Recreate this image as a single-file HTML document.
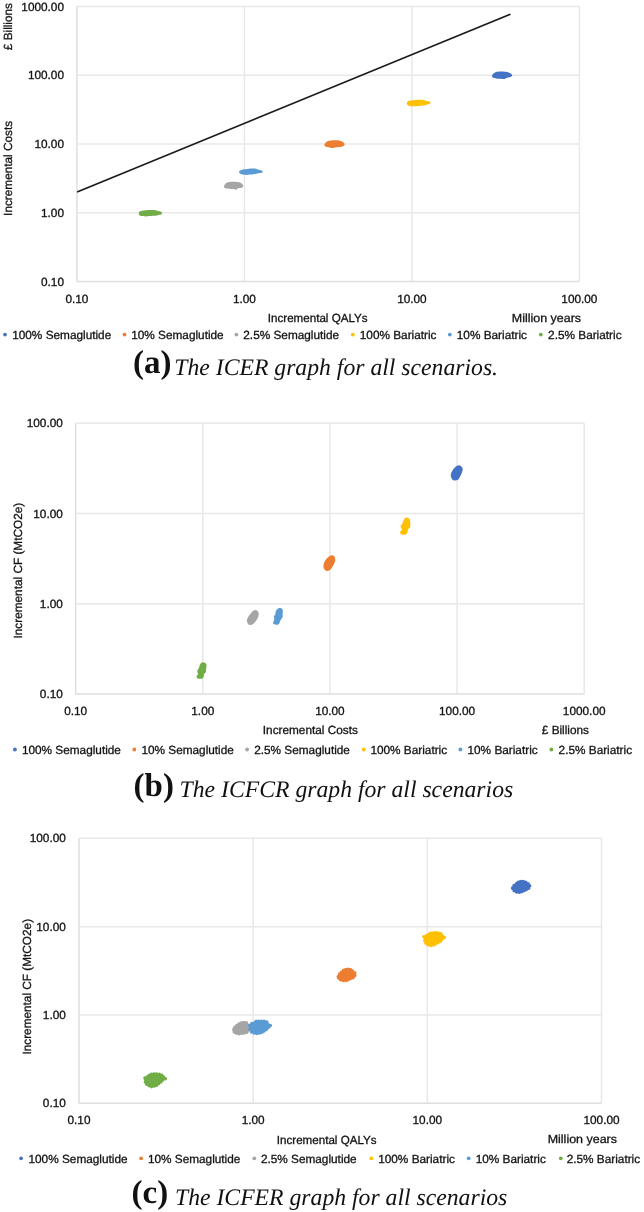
<!DOCTYPE html>
<html><head><meta charset="utf-8"><title>ICER graphs</title>
<style>html,body{margin:0;padding:0;background:#fff;width:644px;height:1212px;overflow:hidden}svg{display:block;text-rendering:geometricPrecision;will-change:transform}text{stroke:#121212;stroke-width:0.3px}text.cap{stroke:none}</style>
</head><body>
<svg width="644" height="1212" viewBox="0 0 644 1212" font-family="Liberation Sans, sans-serif" fill="#121212"><rect width="644" height="1212" fill="#fff"/><line x1="76.90" y1="6.50" x2="76.90" y2="281.50" stroke="#dedede" stroke-width="1.5"/><line x1="244.40" y1="6.50" x2="244.40" y2="281.50" stroke="#e8e8e8" stroke-width="1.5"/><line x1="411.90" y1="6.50" x2="411.90" y2="281.50" stroke="#e8e8e8" stroke-width="1.5"/><line x1="579.40" y1="6.50" x2="579.40" y2="281.50" stroke="#e8e8e8" stroke-width="1.5"/><line x1="76.90" y1="6.50" x2="579.40" y2="6.50" stroke="#e8e8e8" stroke-width="1.5"/><line x1="76.90" y1="75.25" x2="579.40" y2="75.25" stroke="#e8e8e8" stroke-width="1.5"/><line x1="76.90" y1="144.00" x2="579.40" y2="144.00" stroke="#e8e8e8" stroke-width="1.5"/><line x1="76.90" y1="212.75" x2="579.40" y2="212.75" stroke="#e8e8e8" stroke-width="1.5"/><line x1="76.90" y1="281.50" x2="579.40" y2="281.50" stroke="#dedede" stroke-width="1.5"/><text x="64.0" y="10.6" text-anchor="end" font-size="11.8" >1000.00</text><text x="64.0" y="79.3" text-anchor="end" font-size="11.8" >100.00</text><text x="64.0" y="148.1" text-anchor="end" font-size="11.8" >10.00</text><text x="64.0" y="216.8" text-anchor="end" font-size="11.8" >1.00</text><text x="64.0" y="285.6" text-anchor="end" font-size="11.8" >0.10</text><text x="76.9" y="303.0" text-anchor="middle" font-size="11.8" >0.10</text><text x="244.4" y="303.0" text-anchor="middle" font-size="11.8" >1.00</text><text x="411.9" y="303.0" text-anchor="middle" font-size="11.8" >10.00</text><text x="579.4" y="303.0" text-anchor="middle" font-size="11.8" >100.00</text><line x1="77.1" y1="191.9" x2="510.5" y2="14.2" stroke="#1a1a1a" stroke-width="1.6"/><path d="M492.00,76.10C492.07,75.57 492.48,74.72 493.00,74.10C493.52,73.48 494.08,72.82 495.10,72.40C496.12,71.98 497.77,71.77 499.10,71.60C500.43,71.43 501.75,71.33 503.10,71.40C504.45,71.47 505.98,71.70 507.20,72.00C508.42,72.30 509.60,72.75 510.40,73.20C511.20,73.65 511.73,74.22 512.00,74.70C512.27,75.18 512.27,75.70 512.00,76.10C511.73,76.50 511.33,76.80 510.40,77.10C509.47,77.40 507.42,77.57 506.40,77.90C505.38,78.23 505.18,78.97 504.30,79.10C503.42,79.23 502.30,78.77 501.10,78.70C499.90,78.63 498.25,78.80 497.10,78.70C495.95,78.60 494.95,78.33 494.20,78.10C493.45,77.87 492.97,77.63 492.60,77.30C492.23,76.97 491.93,76.63 492.00,76.10Z" fill="#4472C4"/><path d="M324.40,145.10C324.47,144.57 324.88,143.75 325.40,143.10C325.92,142.45 326.55,141.65 327.50,141.20C328.45,140.75 329.83,140.57 331.10,140.40C332.37,140.23 333.75,140.20 335.10,140.20C336.45,140.20 338.05,140.20 339.20,140.40C340.35,140.60 341.20,140.95 342.00,141.40C342.80,141.85 343.57,142.58 344.00,143.10C344.43,143.62 344.60,144.07 344.60,144.50C344.60,144.93 344.57,145.33 344.00,145.70C343.43,146.07 342.35,146.43 341.20,146.70C340.05,146.97 338.45,147.10 337.10,147.30C335.75,147.50 334.23,147.83 333.10,147.90C331.97,147.97 331.30,147.83 330.30,147.70C329.30,147.57 327.98,147.33 327.10,147.10C326.22,146.87 325.45,146.63 325.00,146.30C324.55,145.97 324.33,145.63 324.40,145.10Z" fill="#ED7D31"/><path d="M224.00,186.70C224.07,186.12 224.48,184.88 225.00,184.20C225.52,183.52 226.08,183.00 227.10,182.60C228.12,182.20 229.77,181.95 231.10,181.80C232.43,181.65 233.75,181.63 235.10,181.70C236.45,181.77 238.12,181.92 239.20,182.20C240.28,182.48 240.97,182.92 241.60,183.40C242.23,183.88 242.77,184.55 243.00,185.10C243.23,185.65 243.23,186.27 243.00,186.70C242.77,187.13 242.43,187.43 241.60,187.70C240.77,187.97 238.88,187.97 238.00,188.30C237.12,188.63 236.92,189.53 236.30,189.70C235.68,189.87 235.17,189.40 234.30,189.30C233.43,189.20 232.30,189.23 231.10,189.10C229.90,188.97 228.18,188.73 227.10,188.50C226.02,188.27 225.12,188.00 224.60,187.70C224.08,187.40 223.93,187.28 224.00,186.70Z" fill="#A5A5A5"/><path d="M406.80,103.05C406.83,102.47 407.00,101.83 407.70,101.40C408.40,100.98 409.68,100.75 411.00,100.50C412.32,100.25 414.05,100.02 415.60,99.90C417.15,99.78 418.82,99.75 420.30,99.80C421.78,99.85 423.48,100.00 424.50,100.20C425.52,100.40 425.70,100.82 426.40,101.00C427.10,101.18 428.08,101.12 428.70,101.30C429.32,101.48 429.80,101.81 430.10,102.10C430.40,102.39 430.58,102.73 430.50,103.05C430.42,103.37 430.13,103.76 429.60,104.00C429.07,104.24 428.00,104.30 427.30,104.50C426.60,104.70 426.18,105.02 425.40,105.20C424.62,105.38 423.83,105.45 422.60,105.60C421.37,105.75 419.55,105.98 418.00,106.10C416.45,106.22 414.70,106.33 413.30,106.30C411.90,106.27 410.57,106.13 409.60,105.90C408.63,105.67 407.97,105.38 407.50,104.90C407.03,104.43 406.77,103.63 406.80,103.05Z" fill="#FFC000"/><path d="M239.00,171.80C239.00,171.25 239.53,170.78 240.20,170.40C240.87,170.02 241.77,169.75 243.00,169.50C244.23,169.25 246.05,169.05 247.60,168.90C249.15,168.75 250.90,168.62 252.30,168.60C253.70,168.58 254.98,168.62 256.00,168.80C257.02,168.98 257.62,169.47 258.40,169.70C259.18,169.93 260.05,170.00 260.70,170.20C261.35,170.40 261.95,170.63 262.30,170.90C262.65,171.17 262.83,171.48 262.80,171.80C262.77,172.12 262.60,172.60 262.10,172.80C261.60,173.00 260.58,172.88 259.80,173.00C259.02,173.12 258.27,173.30 257.40,173.50C256.53,173.70 255.83,174.02 254.60,174.20C253.37,174.38 251.40,174.45 250.00,174.60C248.60,174.75 247.37,175.10 246.20,175.10C245.03,175.10 244.00,174.83 243.00,174.60C242.00,174.37 240.87,174.17 240.20,173.70C239.53,173.23 239.00,172.35 239.00,171.80Z" fill="#5B9BD5"/><path d="M138.80,213.50C138.77,212.88 139.12,212.10 139.50,211.70C139.88,211.30 140.37,211.32 141.10,211.10C141.83,210.88 142.73,210.58 143.90,210.40C145.07,210.22 146.70,210.07 148.10,210.00C149.50,209.93 151.05,209.95 152.30,210.00C153.55,210.05 154.67,210.13 155.60,210.30C156.53,210.47 157.13,210.82 157.90,211.00C158.67,211.18 159.58,211.22 160.20,211.40C160.82,211.58 161.32,211.78 161.60,212.10C161.88,212.42 161.97,212.90 161.90,213.30C161.83,213.70 161.63,214.27 161.20,214.50C160.77,214.73 160.00,214.55 159.30,214.70C158.60,214.85 157.93,215.22 157.00,215.40C156.07,215.58 155.03,215.68 153.70,215.80C152.37,215.92 150.32,215.98 149.00,216.10C147.68,216.22 146.80,216.50 145.80,216.50C144.80,216.50 144.02,216.28 143.00,216.10C141.98,215.92 140.40,215.83 139.70,215.40C139.00,214.97 138.83,214.12 138.80,213.50Z" fill="#70AD47"/><text x="267.8" y="321.5" text-anchor="start" font-size="11.8" textLength="99.8" lengthAdjust="spacingAndGlyphs">Incremental QALYs</text><text x="511.8" y="321.5" text-anchor="start" font-size="11.8" textLength="69.3" lengthAdjust="spacingAndGlyphs">Million years</text><text transform="translate(11.9,50.2) rotate(-90)" font-size="11.8">£ Billions</text><text transform="translate(12.1,215.9) rotate(-90)" font-size="11.8">Incremental Costs</text><circle cx="5.0" cy="334.6" r="1.9" fill="#4472C4"/><text x="12.2" y="338.9" text-anchor="start" font-size="11.8" >100% Semaglutide</text><circle cx="124.5" cy="334.6" r="1.9" fill="#ED7D31"/><text x="131.2" y="338.9" text-anchor="start" font-size="11.8" >10% Semaglutide</text><circle cx="236.4" cy="334.6" r="1.9" fill="#A5A5A5"/><text x="243.3" y="338.9" text-anchor="start" font-size="11.8" >2.5% Semaglutide</text><circle cx="352.8" cy="334.6" r="1.9" fill="#FFC000"/><text x="359.8" y="338.9" text-anchor="start" font-size="11.8" >100% Bariatric</text><circle cx="449.8" cy="334.6" r="1.9" fill="#5B9BD5"/><text x="456.8" y="338.9" text-anchor="start" font-size="11.8" >10% Bariatric</text><circle cx="540.8" cy="334.6" r="1.9" fill="#70AD47"/><text x="548.1" y="338.9" text-anchor="start" font-size="11.8" >2.5% Bariatric</text><line x1="75.65" y1="423.30" x2="75.65" y2="694.10" stroke="#dedede" stroke-width="1.5"/><line x1="202.79" y1="423.30" x2="202.79" y2="694.10" stroke="#e8e8e8" stroke-width="1.5"/><line x1="329.93" y1="423.30" x2="329.93" y2="694.10" stroke="#e8e8e8" stroke-width="1.5"/><line x1="457.06" y1="423.30" x2="457.06" y2="694.10" stroke="#e8e8e8" stroke-width="1.5"/><line x1="584.20" y1="423.30" x2="584.20" y2="694.10" stroke="#e8e8e8" stroke-width="1.5"/><line x1="75.65" y1="423.30" x2="584.20" y2="423.30" stroke="#e8e8e8" stroke-width="1.5"/><line x1="75.65" y1="513.57" x2="584.20" y2="513.57" stroke="#e8e8e8" stroke-width="1.5"/><line x1="75.65" y1="603.83" x2="584.20" y2="603.83" stroke="#e8e8e8" stroke-width="1.5"/><line x1="75.65" y1="694.10" x2="584.20" y2="694.10" stroke="#dedede" stroke-width="1.5"/><text x="62.8" y="427.4" text-anchor="end" font-size="11.8" >100.00</text><text x="62.8" y="517.7" text-anchor="end" font-size="11.8" >10.00</text><text x="62.8" y="607.9" text-anchor="end" font-size="11.8" >1.00</text><text x="62.8" y="698.2" text-anchor="end" font-size="11.8" >0.10</text><text x="75.7" y="715.1" text-anchor="middle" font-size="11.8" >0.10</text><text x="202.8" y="715.1" text-anchor="middle" font-size="11.8" >1.00</text><text x="329.9" y="715.1" text-anchor="middle" font-size="11.8" >10.00</text><text x="457.1" y="715.1" text-anchor="middle" font-size="11.8" >100.00</text><text x="584.2" y="715.1" text-anchor="middle" font-size="11.8" >1000.00</text><path d="M459.00,465.20C459.72,465.18 460.32,465.52 460.90,466.00C461.48,466.48 462.22,467.38 462.50,468.10C462.78,468.82 462.72,469.52 462.60,470.30C462.48,471.08 462.13,471.92 461.80,472.80C461.47,473.68 461.07,474.67 460.60,475.60C460.13,476.53 459.52,477.68 459.00,478.40C458.48,479.12 458.12,479.57 457.50,479.90C456.88,480.23 456.08,480.40 455.30,480.40C454.52,480.40 453.47,480.33 452.80,479.90C452.13,479.47 451.63,478.57 451.30,477.80C450.97,477.03 450.80,476.13 450.80,475.30C450.80,474.47 450.97,473.68 451.30,472.80C451.63,471.92 452.23,470.83 452.80,470.00C453.37,469.17 454.07,468.45 454.70,467.80C455.33,467.15 455.88,466.53 456.60,466.10C457.32,465.67 458.28,465.22 459.00,465.20Z" fill="#4472C4"/><path d="M332.00,555.30C332.72,555.35 333.68,555.77 334.20,556.30C334.72,556.83 334.95,557.73 335.10,558.50C335.25,559.27 335.25,560.08 335.10,560.90C334.95,561.72 334.55,562.57 334.20,563.40C333.85,564.23 333.47,565.07 333.00,565.90C332.53,566.73 331.92,567.73 331.40,568.40C330.88,569.07 330.57,569.48 329.90,569.90C329.23,570.32 328.18,570.83 327.40,570.90C326.62,570.97 325.82,570.82 325.20,570.30C324.58,569.78 323.98,568.68 323.70,567.80C323.42,566.92 323.40,565.93 323.50,565.00C323.60,564.07 323.92,563.08 324.30,562.20C324.68,561.32 325.23,560.48 325.80,559.70C326.37,558.92 327.02,558.12 327.70,557.50C328.38,556.88 329.18,556.37 329.90,556.00C330.62,555.63 331.28,555.25 332.00,555.30Z" fill="#ED7D31"/><path d="M255.10,610.00C255.88,609.92 256.73,610.23 257.30,610.70C257.87,611.17 258.27,612.10 258.50,612.80C258.73,613.50 258.80,614.13 258.70,614.90C258.60,615.67 258.28,616.52 257.90,617.40C257.52,618.28 256.97,619.32 256.40,620.20C255.83,621.08 255.18,621.97 254.50,622.70C253.82,623.43 253.08,624.23 252.30,624.60C251.52,624.97 250.52,625.02 249.80,624.90C249.08,624.78 248.47,624.47 248.00,623.90C247.53,623.33 247.12,622.37 247.00,621.50C246.88,620.63 247.03,619.58 247.30,618.70C247.57,617.82 248.07,617.03 248.60,616.20C249.13,615.37 249.83,614.53 250.50,613.70C251.17,612.87 251.83,611.82 252.60,611.20C253.37,610.58 254.32,610.08 255.10,610.00Z" fill="#A5A5A5"/><path d="M406.50,517.40C407.07,517.38 407.78,517.82 408.30,518.10C408.82,518.38 409.28,518.57 409.60,519.10C409.92,519.63 410.08,520.48 410.20,521.30C410.32,522.12 410.30,523.07 410.30,524.00C410.30,524.93 410.32,526.22 410.20,526.90C410.08,527.58 409.97,527.68 409.60,528.10C409.23,528.52 408.32,528.87 408.00,529.40C407.68,529.93 407.90,530.58 407.70,531.30C407.50,532.02 407.37,533.12 406.80,533.70C406.23,534.28 405.23,534.68 404.30,534.80C403.37,534.92 401.90,534.78 401.20,534.40C400.50,534.02 400.20,533.07 400.10,532.50C400.00,531.93 400.27,531.52 400.60,531.00C400.93,530.48 402.05,529.98 402.10,529.40C402.15,528.82 401.13,528.12 400.90,527.50C400.67,526.88 400.50,526.27 400.70,525.70C400.90,525.13 401.65,524.93 402.10,524.10C402.55,523.27 402.93,521.68 403.40,520.70C403.87,519.72 404.38,518.75 404.90,518.20C405.42,517.65 405.93,517.42 406.50,517.40Z" fill="#FFC000"/><path d="M279.20,608.10C279.90,607.92 280.63,607.95 281.20,608.20C281.77,608.45 282.33,609.00 282.60,609.60C282.87,610.20 282.80,610.97 282.80,611.80C282.80,612.63 282.62,613.80 282.60,614.60C282.58,615.40 282.75,616.03 282.70,616.60C282.65,617.17 282.55,617.58 282.30,618.00C282.05,618.42 281.53,618.63 281.20,619.10C280.87,619.57 280.63,620.05 280.30,620.80C279.97,621.55 279.62,622.95 279.20,623.60C278.78,624.25 278.50,624.55 277.80,624.70C277.10,624.85 275.77,624.68 275.00,624.50C274.23,624.32 273.52,624.03 273.20,623.60C272.88,623.17 272.93,622.47 273.10,621.90C273.27,621.33 274.03,620.85 274.20,620.20C274.37,619.55 274.15,618.65 274.10,618.00C274.05,617.35 273.70,616.87 273.90,616.30C274.10,615.73 275.02,615.35 275.30,614.60C275.58,613.85 275.32,612.68 275.60,611.80C275.88,610.92 276.40,609.92 277.00,609.30C277.60,608.68 278.50,608.28 279.20,608.10Z" fill="#5B9BD5"/><path d="M202.60,662.20C203.25,662.03 204.00,662.28 204.60,662.60C205.20,662.92 205.88,663.47 206.20,664.10C206.52,664.73 206.52,665.55 206.50,666.40C206.48,667.25 206.18,668.32 206.10,669.20C206.02,670.08 206.17,671.05 206.00,671.70C205.83,672.35 205.43,672.68 205.10,673.10C204.77,673.52 204.23,673.65 204.00,674.20C203.77,674.75 203.93,675.70 203.70,676.40C203.47,677.10 203.15,678.00 202.60,678.40C202.05,678.80 201.23,678.80 200.40,678.80C199.57,678.80 198.23,678.70 197.60,678.40C196.97,678.10 196.70,677.52 196.60,677.00C196.50,676.48 196.75,675.72 197.00,675.30C197.25,674.88 198.00,674.92 198.10,674.50C198.20,674.08 197.73,673.45 197.60,672.80C197.47,672.15 197.12,671.30 197.30,670.60C197.48,669.90 198.33,669.40 198.70,668.60C199.07,667.80 199.17,666.63 199.50,665.80C199.83,664.97 200.18,664.20 200.70,663.60C201.22,663.00 201.95,662.37 202.60,662.20Z" fill="#70AD47"/><text x="262.8" y="733.8" text-anchor="start" font-size="11.8" >Incremental Costs</text><text x="541.8" y="734.2" text-anchor="start" font-size="11.8" >£ Billions</text><text transform="translate(22.2,638.5) rotate(-90)" font-size="11.8">Incremental CF (MtCO2e)</text><circle cx="14.9" cy="749.5" r="1.9" fill="#4472C4"/><text x="21.9" y="753.8" text-anchor="start" font-size="11.8" >100% Semaglutide</text><circle cx="134.3" cy="749.5" r="1.9" fill="#ED7D31"/><text x="141.4" y="753.8" text-anchor="start" font-size="11.8" >10% Semaglutide</text><circle cx="247.1" cy="749.5" r="1.9" fill="#A5A5A5"/><text x="254.2" y="753.8" text-anchor="start" font-size="11.8" >2.5% Semaglutide</text><circle cx="363.8" cy="749.5" r="1.9" fill="#FFC000"/><text x="370.4" y="753.8" text-anchor="start" font-size="11.8" >100% Bariatric</text><circle cx="460.4" cy="749.5" r="1.9" fill="#5B9BD5"/><text x="467.5" y="753.8" text-anchor="start" font-size="11.8" >10% Bariatric</text><circle cx="551.4" cy="749.5" r="1.9" fill="#70AD47"/><text x="558.6" y="753.8" text-anchor="start" font-size="11.8" >2.5% Bariatric</text><line x1="79.00" y1="838.30" x2="79.00" y2="1103.30" stroke="#dedede" stroke-width="1.5"/><line x1="253.17" y1="838.30" x2="253.17" y2="1103.30" stroke="#e8e8e8" stroke-width="1.5"/><line x1="427.33" y1="838.30" x2="427.33" y2="1103.30" stroke="#e8e8e8" stroke-width="1.5"/><line x1="601.50" y1="838.30" x2="601.50" y2="1103.30" stroke="#e8e8e8" stroke-width="1.5"/><line x1="79.00" y1="838.30" x2="601.50" y2="838.30" stroke="#e8e8e8" stroke-width="1.5"/><line x1="79.00" y1="926.63" x2="601.50" y2="926.63" stroke="#e8e8e8" stroke-width="1.5"/><line x1="79.00" y1="1014.97" x2="601.50" y2="1014.97" stroke="#e8e8e8" stroke-width="1.5"/><line x1="79.00" y1="1103.30" x2="601.50" y2="1103.30" stroke="#dedede" stroke-width="1.5"/><text x="65.8" y="842.4" text-anchor="end" font-size="11.8" >100.00</text><text x="65.8" y="930.7" text-anchor="end" font-size="11.8" >10.00</text><text x="65.8" y="1019.1" text-anchor="end" font-size="11.8" >1.00</text><text x="65.8" y="1107.4" text-anchor="end" font-size="11.8" >0.10</text><text x="79.0" y="1124.2" text-anchor="middle" font-size="11.8" >0.10</text><text x="253.2" y="1124.2" text-anchor="middle" font-size="11.8" >1.00</text><text x="427.3" y="1124.2" text-anchor="middle" font-size="11.8" >10.00</text><text x="601.5" y="1124.2" text-anchor="middle" font-size="11.8" >100.00</text><g fill="#4472C4"><path d="M512.67,887.87C512.83,887.21 513.23,886.35 513.74,885.72C514.26,885.09 515.02,884.71 515.75,884.11C516.49,883.50 517.24,882.57 518.15,882.08C519.06,881.59 520.11,881.27 521.23,881.17C522.34,881.08 523.71,881.17 524.82,881.50C525.92,881.84 527.01,882.56 527.84,883.19C528.66,883.83 529.45,884.66 529.76,885.33C530.07,886.00 530.01,886.60 529.73,887.20C529.44,887.80 528.81,888.43 528.07,888.93C527.33,889.43 526.17,889.80 525.30,890.21C524.43,890.61 523.69,890.98 522.84,891.37C522.00,891.76 521.11,892.37 520.21,892.54C519.32,892.71 518.38,892.56 517.48,892.39C516.57,892.22 515.57,891.94 514.79,891.50C514.01,891.06 513.16,890.34 512.80,889.73C512.45,889.13 512.51,888.54 512.67,887.87Z"/><circle cx="512.8" cy="887.9" r="1.8"/><circle cx="514.2" cy="885.5" r="1.8"/><circle cx="516.4" cy="883.9" r="1.8"/><circle cx="518.3" cy="882.2" r="1.8"/><circle cx="520.7" cy="881.5" r="1.8"/><circle cx="523.2" cy="881.6" r="1.8"/><circle cx="525.7" cy="882.2" r="1.8"/><circle cx="528.0" cy="883.7" r="1.8"/><circle cx="529.6" cy="885.9" r="1.8"/><circle cx="528.5" cy="888.3" r="1.8"/><circle cx="526.1" cy="889.7" r="1.8"/><circle cx="523.7" cy="890.7" r="1.8"/><circle cx="521.5" cy="891.7" r="1.8"/><circle cx="519.2" cy="892.3" r="1.8"/><circle cx="516.6" cy="891.9" r="1.8"/><circle cx="514.2" cy="890.7" r="1.8"/><circle cx="512.9" cy="888.5" r="1.8"/></g><g fill="#ED7D31"><path d="M338.25,976.63C338.36,975.85 338.84,974.88 339.36,974.12C339.88,973.36 340.63,972.75 341.37,972.07C342.12,971.39 342.89,970.58 343.81,970.05C344.73,969.52 345.78,969.02 346.90,968.87C348.01,968.73 349.61,968.80 350.49,969.15C351.37,969.50 351.49,970.46 352.16,970.98C352.84,971.50 353.97,971.74 354.53,972.26C355.09,972.78 355.55,973.37 355.54,974.09C355.52,974.82 354.90,975.95 354.45,976.60C354.01,977.26 353.70,977.61 352.88,978.02C352.06,978.44 350.52,978.67 349.52,979.09C348.53,979.51 347.85,980.25 346.90,980.53C345.94,980.80 344.72,980.77 343.77,980.73C342.81,980.68 342.01,980.56 341.17,980.25C340.34,979.94 339.22,979.45 338.73,978.85C338.25,978.25 338.15,977.42 338.25,976.63Z"/><circle cx="338.4" cy="976.6" r="1.8"/><circle cx="339.6" cy="974.1" r="1.8"/><circle cx="341.5" cy="972.2" r="1.8"/><circle cx="343.5" cy="970.6" r="1.8"/><circle cx="345.8" cy="969.5" r="1.8"/><circle cx="348.3" cy="969.2" r="1.8"/><circle cx="350.7" cy="969.7" r="1.8"/><circle cx="352.7" cy="971.4" r="1.8"/><circle cx="354.8" cy="973.1" r="1.8"/><circle cx="354.7" cy="975.6" r="1.8"/><circle cx="353.0" cy="977.7" r="1.8"/><circle cx="350.4" cy="978.6" r="1.8"/><circle cx="348.2" cy="979.6" r="1.8"/><circle cx="345.9" cy="980.4" r="1.8"/><circle cx="343.3" cy="980.5" r="1.8"/><circle cx="340.6" cy="979.7" r="1.8"/><circle cx="338.7" cy="978.0" r="1.8"/></g><g fill="#A5A5A5"><path d="M233.65,1029.64C233.79,1028.87 234.13,1027.97 234.75,1027.20C235.36,1026.42 236.46,1025.69 237.36,1024.97C238.26,1024.24 239.00,1023.28 240.16,1022.85C241.33,1022.42 243.22,1022.40 244.35,1022.39C245.49,1022.38 246.33,1022.30 246.96,1022.79C247.60,1023.28 247.84,1024.19 248.16,1025.33C248.47,1026.47 248.95,1028.52 248.84,1029.65C248.74,1030.78 248.40,1031.50 247.54,1032.11C246.67,1032.72 244.99,1032.99 243.67,1033.31C242.35,1033.62 240.91,1033.98 239.61,1033.98C238.30,1033.98 236.80,1033.68 235.85,1033.32C234.90,1032.96 234.29,1032.44 233.92,1031.82C233.56,1031.21 233.52,1030.41 233.65,1029.64Z"/><circle cx="233.8" cy="1029.6" r="1.8"/><circle cx="235.0" cy="1027.2" r="1.8"/><circle cx="237.0" cy="1025.5" r="1.8"/><circle cx="239.0" cy="1024.1" r="1.8"/><circle cx="241.1" cy="1023.0" r="1.8"/><circle cx="243.7" cy="1022.6" r="1.8"/><circle cx="246.4" cy="1022.9" r="1.8"/><circle cx="247.8" cy="1025.0" r="1.8"/><circle cx="248.3" cy="1027.6" r="1.8"/><circle cx="248.3" cy="1030.2" r="1.8"/><circle cx="246.7" cy="1032.2" r="1.8"/><circle cx="244.1" cy="1033.0" r="1.8"/><circle cx="241.7" cy="1033.3" r="1.8"/><circle cx="239.2" cy="1033.7" r="1.8"/><circle cx="236.6" cy="1033.3" r="1.8"/><circle cx="234.3" cy="1031.9" r="1.8"/></g><g fill="#FFC000"><path d="M423.75,936.66C423.79,936.21 424.70,935.91 425.50,935.68C426.30,935.46 428.01,935.72 428.56,935.30C429.10,934.88 428.29,933.51 428.78,933.15C429.27,932.79 430.53,933.26 431.50,933.16C432.48,933.06 433.41,932.60 434.63,932.55C435.85,932.50 437.74,932.63 438.81,932.84C439.88,933.05 440.55,933.34 441.05,933.81C441.55,934.29 441.18,935.21 441.80,935.68C442.41,936.15 444.34,936.25 444.74,936.63C445.15,937.01 444.64,937.59 444.23,937.95C443.81,938.31 442.64,938.38 442.23,938.81C441.82,939.23 442.30,939.96 441.78,940.49C441.26,941.03 440.09,941.44 439.10,942.02C438.10,942.59 436.84,943.38 435.83,943.93C434.81,944.49 434.06,945.03 433.03,945.33C432.00,945.63 430.70,945.87 429.64,945.71C428.59,945.55 427.47,944.94 426.69,944.36C425.90,943.79 425.29,942.96 424.93,942.25C424.58,941.54 424.49,940.74 424.54,940.09C424.60,939.45 425.41,938.96 425.27,938.38C425.14,937.81 423.72,937.11 423.75,936.66Z"/><circle cx="423.9" cy="936.7" r="1.8"/><circle cx="426.7" cy="935.6" r="1.8"/><circle cx="428.8" cy="934.5" r="1.8"/><circle cx="430.5" cy="933.3" r="1.8"/><circle cx="433.1" cy="933.1" r="1.8"/><circle cx="435.5" cy="932.8" r="1.8"/><circle cx="438.2" cy="933.0" r="1.8"/><circle cx="440.9" cy="933.9" r="1.8"/><circle cx="442.4" cy="936.0" r="1.8"/><circle cx="444.3" cy="937.5" r="1.8"/><circle cx="442.0" cy="939.2" r="1.8"/><circle cx="440.3" cy="941.2" r="1.8"/><circle cx="437.9" cy="942.5" r="1.8"/><circle cx="435.7" cy="943.8" r="1.8"/><circle cx="433.4" cy="945.0" r="1.8"/><circle cx="430.7" cy="945.4" r="1.8"/><circle cx="428.1" cy="944.8" r="1.8"/><circle cx="426.0" cy="943.2" r="1.8"/><circle cx="424.8" cy="940.7" r="1.8"/><circle cx="425.2" cy="938.1" r="1.8"/></g><g fill="#5B9BD5"><path d="M249.67,1025.56C249.77,1024.91 250.28,1024.18 251.10,1023.69C251.91,1023.21 253.89,1023.09 254.56,1022.64C255.23,1022.19 254.31,1021.26 255.12,1021.00C255.93,1020.74 257.88,1021.07 259.42,1021.07C260.95,1021.07 263.00,1020.85 264.31,1021.02C265.61,1021.20 266.65,1021.56 267.25,1022.11C267.84,1022.66 267.35,1023.85 267.88,1024.32C268.41,1024.79 270.02,1024.62 270.44,1024.94C270.87,1025.26 270.81,1025.82 270.43,1026.25C270.04,1026.68 268.86,1026.92 268.14,1027.52C267.42,1028.12 266.87,1029.18 266.11,1029.87C265.34,1030.55 264.48,1031.09 263.56,1031.63C262.65,1032.18 261.94,1032.78 260.61,1033.14C259.28,1033.49 257.09,1033.87 255.60,1033.74C254.11,1033.62 252.62,1033.00 251.68,1032.38C250.75,1031.77 250.19,1030.88 249.98,1030.07C249.78,1029.26 250.52,1028.29 250.47,1027.54C250.41,1026.78 249.56,1026.20 249.67,1025.56Z"/><circle cx="249.8" cy="1025.6" r="1.8"/><circle cx="251.8" cy="1023.6" r="1.8"/><circle cx="254.7" cy="1022.8" r="1.8"/><circle cx="256.3" cy="1021.2" r="1.8"/><circle cx="258.9" cy="1021.3" r="1.8"/><circle cx="261.4" cy="1021.3" r="1.8"/><circle cx="264.1" cy="1021.2" r="1.8"/><circle cx="266.7" cy="1022.1" r="1.8"/><circle cx="267.8" cy="1024.4" r="1.8"/><circle cx="270.3" cy="1025.6" r="1.8"/><circle cx="268.2" cy="1027.4" r="1.8"/><circle cx="266.3" cy="1029.4" r="1.8"/><circle cx="264.1" cy="1031.0" r="1.8"/><circle cx="261.9" cy="1032.2" r="1.8"/><circle cx="259.5" cy="1033.0" r="1.8"/><circle cx="256.8" cy="1033.4" r="1.8"/><circle cx="254.1" cy="1033.0" r="1.8"/><circle cx="251.6" cy="1031.9" r="1.8"/><circle cx="250.2" cy="1029.5" r="1.8"/><circle cx="250.3" cy="1026.8" r="1.8"/></g><g fill="#70AD47"><path d="M144.86,1078.03C144.93,1077.51 145.53,1077.14 146.20,1076.87C146.87,1076.61 148.34,1076.89 148.88,1076.46C149.43,1076.02 149.05,1074.65 149.47,1074.25C149.90,1073.86 150.68,1074.17 151.44,1074.09C152.20,1074.01 153.00,1073.83 154.06,1073.77C155.12,1073.72 156.53,1073.62 157.77,1073.74C159.01,1073.86 160.68,1073.97 161.50,1074.49C162.32,1075.01 162.04,1076.35 162.69,1076.86C163.35,1077.37 164.99,1077.16 165.45,1077.56C165.90,1077.95 165.89,1078.82 165.43,1079.23C164.96,1079.63 163.24,1079.60 162.63,1079.99C162.02,1080.38 162.36,1081.08 161.79,1081.57C161.22,1082.05 159.88,1082.34 159.21,1082.89C158.54,1083.44 158.42,1084.35 157.75,1084.87C157.08,1085.40 156.26,1085.71 155.19,1086.04C154.11,1086.37 152.47,1086.93 151.29,1086.84C150.11,1086.75 149.07,1086.03 148.12,1085.49C147.18,1084.96 146.13,1084.26 145.62,1083.61C145.10,1082.97 145.01,1082.24 145.03,1081.63C145.06,1081.03 145.80,1080.59 145.77,1079.99C145.74,1079.39 144.79,1078.55 144.86,1078.03Z"/><circle cx="145.0" cy="1078.1" r="1.8"/><circle cx="147.6" cy="1076.7" r="1.8"/><circle cx="149.4" cy="1075.2" r="1.8"/><circle cx="151.5" cy="1074.2" r="1.8"/><circle cx="154.0" cy="1074.0" r="1.8"/><circle cx="156.5" cy="1074.0" r="1.8"/><circle cx="159.2" cy="1074.2" r="1.8"/><circle cx="161.7" cy="1075.2" r="1.8"/><circle cx="163.5" cy="1077.1" r="1.8"/><circle cx="165.3" cy="1078.8" r="1.8"/><circle cx="162.6" cy="1079.9" r="1.8"/><circle cx="160.8" cy="1081.9" r="1.8"/><circle cx="158.6" cy="1083.4" r="1.8"/><circle cx="156.8" cy="1085.1" r="1.8"/><circle cx="154.4" cy="1086.0" r="1.8"/><circle cx="151.7" cy="1086.6" r="1.8"/><circle cx="149.2" cy="1085.7" r="1.8"/><circle cx="146.8" cy="1084.3" r="1.8"/><circle cx="145.4" cy="1082.1" r="1.8"/><circle cx="145.7" cy="1079.5" r="1.8"/></g><text x="276.8" y="1143.6" text-anchor="start" font-size="11.8" textLength="99.8" lengthAdjust="spacingAndGlyphs">Incremental QALYs</text><text x="547.7" y="1142.9" text-anchor="start" font-size="11.8" textLength="69.3" lengthAdjust="spacingAndGlyphs">Million years</text><text transform="translate(31.2,1054.6) rotate(-90)" font-size="11.8">Incremental CF (MtCO2e)</text><circle cx="21.1" cy="1158.3" r="1.9" fill="#4472C4"/><text x="28.5" y="1162.6" text-anchor="start" font-size="11.8" >100% Semaglutide</text><circle cx="141.1" cy="1158.3" r="1.9" fill="#ED7D31"/><text x="147.9" y="1162.6" text-anchor="start" font-size="11.8" >10% Semaglutide</text><circle cx="254.3" cy="1158.3" r="1.9" fill="#A5A5A5"/><text x="260.9" y="1162.6" text-anchor="start" font-size="11.8" >2.5% Semaglutide</text><circle cx="371.3" cy="1158.3" r="1.9" fill="#FFC000"/><text x="378.2" y="1162.6" text-anchor="start" font-size="11.8" >100% Bariatric</text><circle cx="468.7" cy="1158.3" r="1.9" fill="#5B9BD5"/><text x="475.7" y="1162.6" text-anchor="start" font-size="11.8" >10% Bariatric</text><circle cx="560.8" cy="1158.3" r="1.9" fill="#70AD47"/><text x="566.7" y="1162.6" text-anchor="start" font-size="11.8" >2.5% Bariatric</text><text x="133.0" y="373.3" font-family="Liberation Serif, serif" font-weight="bold" font-size="33" fill="#111" class="cap">(a)</text><text x="174.3" y="375.0" font-family="Liberation Serif, serif" font-style="italic" font-size="23.7" fill="#111" class="cap">The ICER graph for all scenarios.</text><text x="133.6" y="795.9" font-family="Liberation Serif, serif" font-weight="bold" font-size="33" fill="#111" class="cap">(b)</text><text x="179.6" y="796.5" font-family="Liberation Serif, serif" font-style="italic" font-size="23.7" fill="#111" class="cap">The ICFCR graph for all scenarios</text><text x="131.6" y="1203.3" font-family="Liberation Serif, serif" font-weight="bold" font-size="33" fill="#111" class="cap">(c)</text><text x="175.0" y="1204.8" font-family="Liberation Serif, serif" font-style="italic" font-size="23.7" fill="#111" class="cap">The ICFER graph for all scenarios</text></svg>
</body></html>
